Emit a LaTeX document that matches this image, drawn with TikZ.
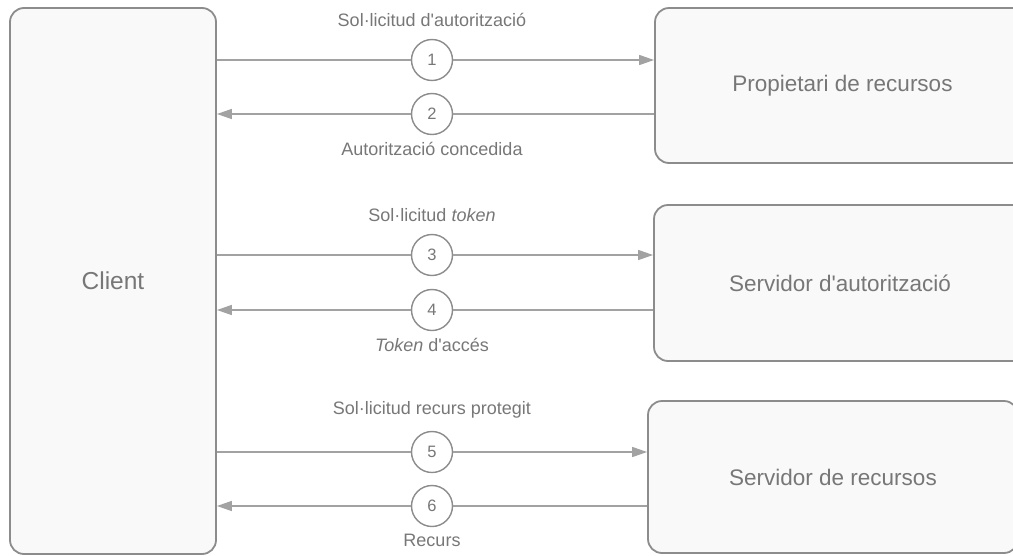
\documentclass[tikz,border=0pt]{standalone}
\usepackage{fontspec}
\setmainfont{Liberation Sans}
\usetikzlibrary{arrows.meta}
\definecolor{txt}{HTML}{777777}
\definecolor{bord}{HTML}{8C8C8C}
\definecolor{fillc}{HTML}{F9F9F9}
\definecolor{lin}{HTML}{A2A2A2}
\tikzset{
  box/.style={draw=bord, fill=fillc, line width=1.8pt, rounded corners=14pt, text=txt, inner sep=0pt},
  num/.style={circle, draw=bord, fill=white, line width=1.4pt, minimum size=41pt, inner sep=0pt, text=txt, font=\fontsize{16.5}{20}\selectfont},
  lbl/.style={text=txt, font=\fontsize{18}{22}\selectfont, inner sep=0pt},
  conn/.style={draw=lin, line width=1.5pt},
  arr/.style={conn, -{Triangle[length=15pt,width=10pt]}}
}
\begin{document}
\begin{tikzpicture}[x=1pt,y=-1pt]
\useasboundingbox (0,0) rectangle (1013,555);
\clip (0,0) rectangle (1013,555);
\node[box, minimum width=206pt, minimum height=546pt, font=\fontsize{24.5}{28}\selectfont] (client) at (113,281) {Client};
\node[box, minimum width=375pt, minimum height=155pt, font=\fontsize{22.5}{27}\selectfont] (prop) at (842.5,85.5) {Propietari de recursos};
\node[box, minimum width=372pt, minimum height=156pt, font=\fontsize{22.5}{27}\selectfont] (auth) at (840,283) {Servidor d\textquotesingle autorització};
\node[box, minimum width=370pt, minimum height=152pt, font=\fontsize{22.5}{27}\selectfont] (res) at (833,477) {Servidor de recursos};

\node[num] (c1) at (432,60) {1};
\node[num] (c2) at (432,114) {2};
\node[num] (c3) at (432,255) {3};
\node[num] (c4) at (432,310) {4};
\node[num] (c5) at (432,452) {5};
\node[num] (c6) at (432,506) {6};

\draw[conn] (c1.west -| client.east) -- (c1.west);
\draw[arr] (c1.east) -- (c1.east -| prop.west);
\draw[arr] (c2.west) -- (c2.west -| client.east);
\draw[conn] (c2.east) -- (c2.east -| prop.west);

\draw[conn] (c3.west -| client.east) -- (c3.west);
\draw[arr] (c3.east) -- (c3.east -| auth.west);
\draw[arr] (c4.west) -- (c4.west -| client.east);
\draw[conn] (c4.east) -- (c4.east -| auth.west);

\draw[conn] (c5.west -| client.east) -- (c5.west);
\draw[arr] (c5.east) -- (c5.east -| res.west);
\draw[arr] (c6.west) -- (c6.west -| client.east);
\draw[conn] (c6.east) -- (c6.east -| res.west);

\node[lbl] (l1) at (432,20) {Sol·licitud d\textquotesingle autorització};
\node[lbl] (l2) at (432,149) {Autorització concedida};
\node[lbl] (l3) at (432,215) {Sol·licitud \textit{token}};
\node[lbl] (l4) at (432,345) {\textit{Token} d\textquotesingle accés};
\node[lbl] (l5) at (432,410) {Sol·licitud recurs protegit};
\node[lbl] (l6) at (432,540) {Recurs};
\end{tikzpicture}
\end{document}
